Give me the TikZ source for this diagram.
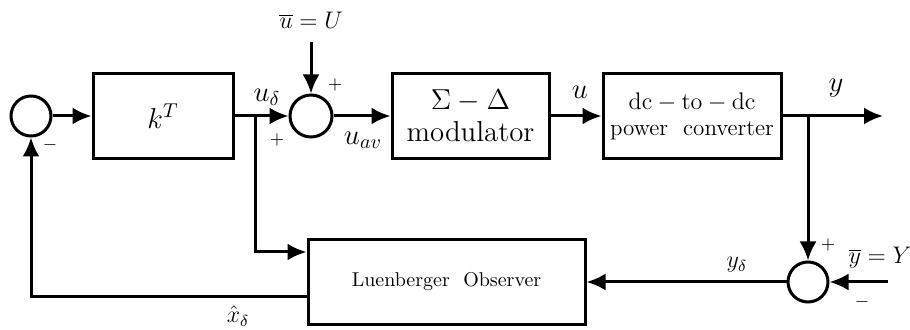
\documentclass[tikz,border=0pt]{standalone}
\usetikzlibrary{arrows.meta}
\tikzset{blk/.style={draw,minimum height=42.5pt,inner sep=2pt,align=center},
  sum/.style={draw,circle,minimum size=20pt,inner sep=0pt},
  sgn/.style={font=\small,inner sep=0pt}}
\begin{document}
\begin{tikzpicture}[x=0.5pt,y=-0.5pt,line width=1.5pt,>={Latex[length=9.5pt,width=8.5pt]}]
\useasboundingbox (0,0) rectangle (910,330);
% blocks
\node[sum] (s1) at (31,116) {};
\node[blk,minimum width=70pt,font=\Large] (k) at (163,116) {$k^T$};
\node[sum,minimum size=21pt] (s2) at (311,116) {};
\node[blk,minimum width=78.5pt,font=\Large] (sd) at (470.5,116) {$\Sigma-\Delta$\\[-2pt]modulator};
\node[blk,minimum width=89pt,font=\fontsize{11.5}{13}\selectfont] (dc) at (692,116) {$\mathrm{dc}-\mathrm{to}-\mathrm{dc}$\\power\ \ converter};
\node[sum] (s3) at (808,282) {};
\node[blk,minimum width=138.5pt] (obs) at (446.5,282) {Luenberger\ \ Observer};
\coordinate (b1) at (255,116);\coordinate (b2) at (808,116);\coordinate (yout) at (883,116);
\coordinate (uin) at (311,42);\coordinate (yref) at (888,282);
% signals
\draw[->] (s1) -- (k);\draw (k) -- (b1);\draw[->] (b1) -- (s2);
\draw[->] (uin) -- (s2);\draw[->] (s2) -- (sd);\draw[->] (sd) -- (dc);\draw[->] (dc.east) -- (yout);
\draw[->] (b2) -- (s3);\draw[->] (yref) -- (s3);\draw[->] (s3) -- (obs);
\draw[->] (b1) |- ([yshift=15pt]obs.west);
\draw[->] ([yshift=-7.5pt]obs.west) -| (s1.south);
% labels
\node[font=\Large] (lud) at (267,97) {$u_\delta$};\node[sgn] (p1) at (277,140) {$+$};
\node[font=\large] (lub) at (311,20) {$\overline{u}=U$};\node[sgn] (p2) at (335,85) {$+$};
\node[font=\Large] (luav) at (363,140) {$u_{av}$};\node[font=\Large] (lu) at (580,92) {$u$};
\node[font=\Large] (ly) at (836,88) {$y$};\node[sgn] (p3) at (828,245) {$+$};
\node[font=\large] (lyb) at (880,258) {$\overline{y}=Y$};\node[sgn] (m2) at (862,302) {$-$};
\node[font=\large] (lyd) at (737,265) {$y_\delta$};\node[sgn] (m1) at (50,145) {$-$};
\node[font=\large] (lxh) at (238,316) {$\hat{x}_\delta$};
\end{tikzpicture}
\end{document}
